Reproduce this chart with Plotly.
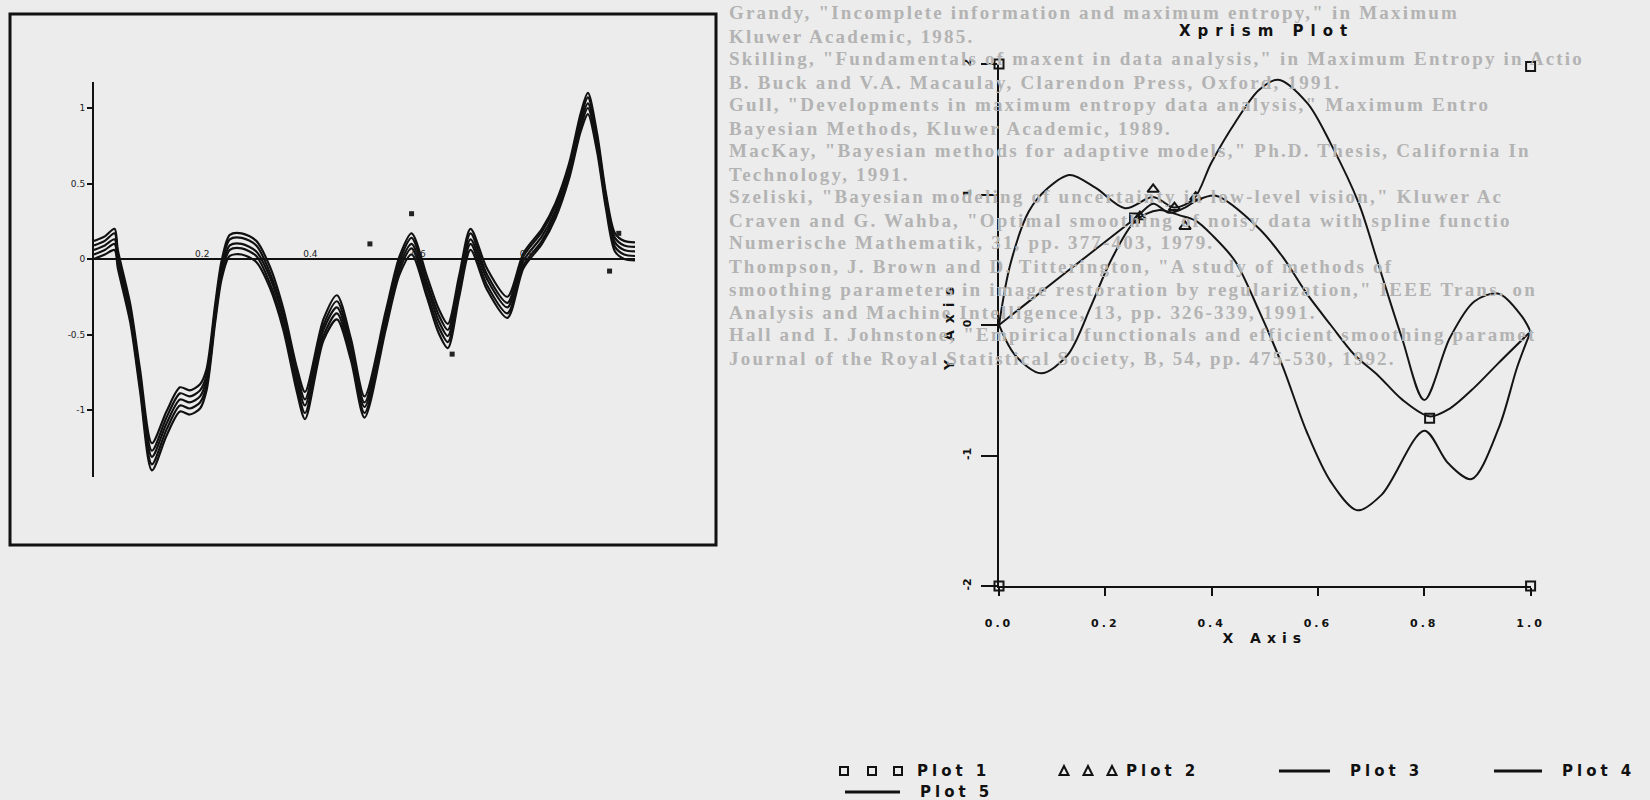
import plotly.graph_objects as go

# ---------------- Left panel data (five nearly parallel curves) ----------------
left_x = [0.0, 0.02, 0.038, 0.044, 0.067, 0.085, 0.107, 0.134, 0.159, 0.177, 0.196, 0.208,
          0.224, 0.236, 0.251, 0.273, 0.30, 0.325, 0.35, 0.375, 0.39, 0.424, 0.449, 0.475,
          0.50, 0.539, 0.565, 0.587, 0.615, 0.637, 0.654, 0.675, 0.696, 0.726, 0.764, 0.794,
          0.828, 0.853, 0.878, 0.90, 0.913, 0.93, 0.946, 0.963, 0.98, 1.0]
left_top = [0.12, 0.15, 0.20, 0.06, -0.30, -0.73, -1.22, -1.01, -0.85, -0.87, -0.83, -0.73,
            -0.30, -0.01, 0.16, 0.17, 0.12, -0.05, -0.33, -0.72, -0.88, -0.40, -0.24, -0.53,
            -0.91, -0.35, 0.02, 0.17, -0.11, -0.33, -0.43, -0.11, 0.20, -0.06, -0.25, 0.04,
            0.20, 0.37, 0.63, 0.97, 1.10, 0.83, 0.44, 0.17, 0.12, 0.11]
left_upper = [0.09, 0.12, 0.17, 0.03, -0.33, -0.77, -1.27, -1.05, -0.89, -0.91, -0.87, -0.77,
              -0.33, -0.04, 0.13, 0.14, 0.09, -0.09, -0.37, -0.76, -0.93, -0.44, -0.28, -0.57,
              -0.95, -0.38, -0.01, 0.14, -0.15, -0.37, -0.47, -0.15, 0.17, -0.10, -0.29, 0.02,
              0.18, 0.35, 0.61, 0.94, 1.07, 0.80, 0.42, 0.14, 0.09, 0.08]
left_mid = [0.06, 0.09, 0.13, 0.0, -0.36, -0.80, -1.31, -1.09, -0.93, -0.95, -0.91, -0.80,
            -0.36, -0.07, 0.09, 0.10, 0.05, -0.12, -0.40, -0.80, -0.97, -0.47, -0.32, -0.60,
            -0.98, -0.41, -0.04, 0.10, -0.18, -0.41, -0.51, -0.18, 0.13, -0.13, -0.32, -0.01,
            0.15, 0.32, 0.58, 0.91, 1.03, 0.77, 0.39, 0.11, 0.06, 0.05]
left_lower = [0.03, 0.06, 0.10, -0.03, -0.39, -0.84, -1.36, -1.13, -0.97, -0.99, -0.95, -0.84,
              -0.39, -0.10, 0.06, 0.07, 0.02, -0.16, -0.44, -0.84, -1.02, -0.51, -0.36, -0.64,
              -1.02, -0.44, -0.07, 0.07, -0.22, -0.45, -0.55, -0.22, 0.10, -0.17, -0.36, -0.04,
              0.12, 0.30, 0.55, 0.88, 1.00, 0.74, 0.37, 0.08, 0.03, 0.02]
left_bottom = [0.00, 0.03, 0.06, -0.06, -0.42, -0.87, -1.40, -1.17, -1.01, -1.03, -0.99, -0.87,
               -0.42, -0.13, 0.02, 0.03, -0.02, -0.19, -0.47, -0.88, -1.06, -0.54, -0.40, -0.67,
               -1.05, -0.47, -0.10, 0.03, -0.25, -0.49, -0.59, -0.25, 0.06, -0.20, -0.39, -0.06,
               0.10, 0.27, 0.53, 0.85, 0.96, 0.71, 0.34, 0.05, 0.00, -0.01]
left_dots_x = [0.51, 0.587, 0.662, 0.953, 0.97]
left_dots_y = [0.10, 0.30, -0.63, -0.08, 0.17]
left_xticks = [0.2, 0.4, 0.6, 0.8]
left_xticktext = ["0.2", "0.4", "0.6", "0.8"]
left_yticks = [-1, -0.5, 0, 0.5, 1]
left_yticktext = ["-1", "-0.5", "0", "0.5", "1"]

# ---------------- Right panel data (Xprism Plot) ----------------
p1_x = [0.0, 1.0, 0.0, 1.0, 0.81, 0.255]
p1_y = [2.0, 1.98, -2.0, -2.0, -0.715, 0.82]
p2_x = [0.265, 0.29, 0.33, 0.35, 0.37]
p2_y = [0.83, 1.04, 0.90, 0.755, 0.98]

p3_x = [0.0, 0.021, 0.056, 0.092, 0.133, 0.182, 0.237, 0.29, 0.33, 0.367, 0.399, 0.444,
        0.489, 0.525, 0.58, 0.624, 0.677, 0.714, 0.758, 0.80, 0.848, 0.894, 0.94, 0.983, 1.0]
p3_y = [0.0, 0.46, 0.87, 1.05, 1.15, 1.05, 0.895, 0.98, 0.90, 0.97, 1.24, 1.55,
        1.80, 1.88, 1.70, 1.39, 0.93, 0.46, -0.10, -0.575, -0.10, 0.18, 0.24, 0.07, -0.05]
p4_x = [0.0, 0.125, 0.257, 0.29, 0.32, 0.35, 0.37, 0.408, 0.489, 0.534, 0.579, 0.624,
        0.669, 0.714, 0.758, 0.81, 0.848, 0.894, 0.94, 1.0]
p4_y = [0.0, 0.40, 0.82, 0.93, 0.86, 0.90, 0.95, 0.99, 0.74, 0.52, 0.24, 0.0,
        -0.23, -0.39, -0.57, -0.70, -0.64, -0.48, -0.29, -0.05]
p5_x = [0.0, 0.03, 0.079, 0.129, 0.173, 0.21, 0.257, 0.30, 0.34, 0.37, 0.403, 0.444,
        0.489, 0.534, 0.579, 0.624, 0.674, 0.72, 0.80, 0.845, 0.889, 0.94, 0.975, 1.0]
p5_y = [0.0, -0.23, -0.37, -0.23, 0.145, 0.49, 0.80, 0.88, 0.84, 0.80, 0.68, 0.49,
        0.11, -0.32, -0.82, -1.20, -1.42, -1.30, -0.81, -1.06, -1.18, -0.79, -0.32, -0.05]
right_xticks = [0.0, 0.2, 0.4, 0.6, 0.8, 1.0]
right_xticktext = ["0.0", "0.2", "0.4", "0.6", "0.8", "1.0"]
right_yticks = [-2, -1, 0, 1, 2]
right_yticktext = ["-2", "-1", "0", "1", "2"]
legend_names = ["Plot 1", "Plot 2", "Plot 3", "Plot 4", "Plot 5"]

# faint page text behind the figures (scanned reference list)
page_lines = [
    'Grandy, "Incomplete information and maximum entropy," in Maximum',
    'Kluwer Academic, 1985.',
    'Skilling, "Fundamentals of maxent in data analysis," in Maximum Entropy in Actio',
    'B. Buck and V.A. Macaulay, Clarendon Press, Oxford, 1991.',
    'Gull, "Developments in maximum entropy data analysis," Maximum Entro',
    'Bayesian Methods, Kluwer Academic, 1989.',
    'MacKay, "Bayesian methods for adaptive models," Ph.D. Thesis, California In',
    'Technology, 1991.',
    'Szeliski, "Bayesian modeling of uncertainty in low-level vision," Kluwer Ac',
    'Craven and G. Wahba, "Optimal smoothing of noisy data with spline functio',
    'Numerische Mathematik, 31, pp. 377-403, 1979.',
    'Thompson, J. Brown and D. Titterington, "A study of methods of',
    'smoothing parameters in image restoration by regularization," IEEE Trans. on',
    'Analysis and Machine Intelligence, 13, pp. 326-339, 1991.',
    'Hall and I. Johnstone, "Empirical functionals and efficient smoothing paramet',
    'Journal of the Royal Statistical Society, B, 54, pp. 475-530, 1992.',
]

W, H = 1650, 800


def px(x):
    return x / W


def py(y):
    return 1 - y / H


def spaced(t, s):
    return '<span style="letter-spacing:%spx">%s</span>' % (s, t)


BOLD = "DejaVu Sans"
fig = go.Figure()

for ys in [left_top, left_upper, left_mid, left_lower, left_bottom]:
    fig.add_trace(go.Scatter(x=left_x, y=ys, mode="lines", xaxis="x", yaxis="y",
                             line=dict(color="#111111", width=2.2, shape="spline", smoothing=0.8),
                             showlegend=False, hoverinfo="skip"))
fig.add_trace(go.Scatter(x=left_dots_x, y=left_dots_y, mode="markers", xaxis="x", yaxis="y",
                         marker=dict(symbol="square", size=5, color="#222222"),
                         showlegend=False, cliponaxis=False))

line_style = dict(color="#151515", width=2, shape="spline", smoothing=0.9)
fig.add_trace(go.Scatter(x=p3_x, y=p3_y, mode="lines", name=legend_names[2], xaxis="x2", yaxis="y2",
                         line=line_style, showlegend=False, cliponaxis=False))
fig.add_trace(go.Scatter(x=p4_x, y=p4_y, mode="lines", name=legend_names[3], xaxis="x2", yaxis="y2",
                         line=line_style, showlegend=False, cliponaxis=False))
fig.add_trace(go.Scatter(x=p5_x, y=p5_y, mode="lines", name=legend_names[4], xaxis="x2", yaxis="y2",
                         line=line_style, showlegend=False, cliponaxis=False))
fig.add_trace(go.Scatter(x=p1_x, y=p1_y, mode="markers", name=legend_names[0], xaxis="x2", yaxis="y2",
                         marker=dict(symbol="square-open", size=9, color="#151515", line=dict(width=2)),
                         showlegend=False, cliponaxis=False))
fig.add_trace(go.Scatter(x=p2_x, y=p2_y, mode="markers", name=legend_names[1], xaxis="x2", yaxis="y2",
                         marker=dict(symbol="triangle-up-open", size=10, color="#151515", line=dict(width=2)),
                         showlegend=False, cliponaxis=False))

annotations = []
row_y = [13, 36, 59, 82, 105, 128, 151, 174, 197, 220, 243, 266, 289, 312, 335, 358]
for t, yy in zip(page_lines, row_y):
    annotations.append(dict(text="<b>%s</b>" % spaced(t, 2.2), x=px(727), y=py(yy), xref="paper",
                            yref="paper", xanchor="left", yanchor="middle", showarrow=False,
                            font=dict(family="Liberation Serif", size=19, color="#b3b3b3")))

annotations.append(dict(text=spaced("<b>Xprism Plot</b>", 7), x=px(1266), y=py(31),
                        xref="paper", yref="paper", xanchor="center", yanchor="middle", showarrow=False,
                        font=dict(family=BOLD, size=15, color="#111111")))

# manual legend labels
leg_text = [(legend_names[0], 915, 771), (legend_names[1], 1124, 771), (legend_names[2], 1348, 771),
            (legend_names[3], 1560, 771), (legend_names[4], 918, 792)]
for t, xx, yy in leg_text:
    annotations.append(dict(text=spaced("<b>%s</b>" % t, 4), x=px(xx), y=py(yy), xref="paper",
                            yref="paper", xanchor="left", yanchor="middle", showarrow=False,
                            font=dict(family=BOLD, size=15, color="#111111")))

shapes = [dict(type="rect", xref="paper", yref="paper", x0=px(10), x1=px(716), y0=py(545), y1=py(14),
               line=dict(color="#111111", width=3), layer="below")]
for cx in [844, 872, 898]:
    shapes.append(dict(type="rect", xref="paper", yref="paper", x0=px(cx - 4), x1=px(cx + 4),
                       y0=py(775), y1=py(767), line=dict(color="#111111", width=2)))
for cx in [1064, 1088, 1112]:
    path = "M %f %f L %f %f L %f %f Z" % (px(cx - 4.5), py(775), px(cx + 4.5), py(775), px(cx), py(766))
    shapes.append(dict(type="path", xref="paper", yref="paper", path=path,
                       line=dict(color="#111111", width=2)))
for x0, x1, yy in [(1279, 1330, 771), (1494, 1542, 771), (845, 900, 792)]:
    shapes.append(dict(type="line", xref="paper", yref="paper", x0=px(x0), x1=px(x1), y0=py(yy), y1=py(yy),
                       line=dict(color="#111111", width=3)))

fig.update_layout(
    width=W, height=H, margin=dict(l=0, r=0, t=0, b=0, autoexpand=False),
    paper_bgcolor="#ececec", plot_bgcolor="rgba(0,0,0,0)", showlegend=False,
    annotations=annotations, shapes=shapes,
    xaxis=dict(domain=[px(94), px(635)], range=[0, 1], anchor="free", position=py(259),
               side="top", showline=True, linewidth=2, linecolor="#111111", showgrid=False,
               zeroline=False, ticks="", tickvals=left_xticks, ticktext=left_xticktext,
               ticklabelstandoff=-3, automargin=False,
               tickfont=dict(family=BOLD, size=9, color="#222222")),
    yaxis=dict(domain=[py(477), py(82)], range=[-1.4437, 1.1722], anchor="x",
               showline=True, linewidth=2, linecolor="#111111", showgrid=False, zeroline=False,
               ticks="outside", ticklen=5, tickwidth=2, tickcolor="#111111",
               tickvals=left_yticks, ticktext=left_yticktext, automargin=False,
               tickfont=dict(family=BOLD, size=9, color="#222222")),
    xaxis2=dict(domain=[px(999), px(1530.6)], range=[0, 1], anchor="y2",
                showline=True, linewidth=2, linecolor="#111111", showgrid=False, zeroline=False,
                ticks="outside", ticklen=8, tickwidth=2, tickcolor="#111111",
                tickvals=right_xticks, ticktext=[spaced("<b>%s</b>" % t, 3) for t in right_xticktext],
                ticklabelstandoff=18, automargin=False,
                tickfont=dict(family=BOLD, size=11, color="#111111"),
                title=dict(text=spaced("<b>X Axis</b>", 6), standoff=2,
                           font=dict(family=BOLD, size=14, color="#111111"))),
    yaxis2=dict(domain=[py(586), py(64)], range=[-2, 2], anchor="x2",
                showline=True, linewidth=2, linecolor="#111111", showgrid=False, zeroline=False,
                ticks="outside", ticklen=16, tickwidth=2, tickcolor="#111111",
                tickvals=right_yticks, ticktext=["<b>%s</b>" % t for t in right_yticktext],
                tickangle=-90, ticklabelstandoff=6, automargin=False,
                tickfont=dict(family=BOLD, size=11, color="#111111"),
                title=dict(text=spaced("<b>Y Axis</b>", 7), standoff=3,
                           font=dict(family=BOLD, size=14, color="#111111"))),
)

fig.write_html("out.html", config={"displayModeBar": False},
               post_script="document.body.style.margin='0px';document.body.style.overflow='hidden';")
